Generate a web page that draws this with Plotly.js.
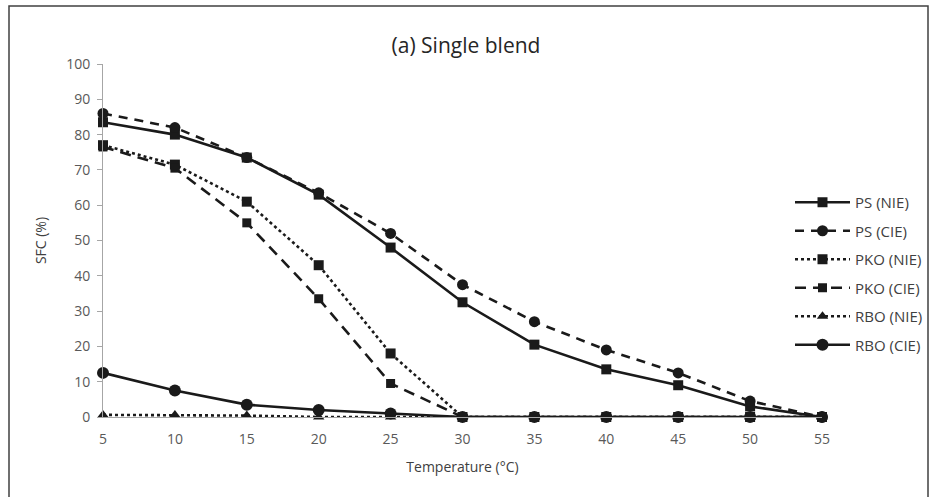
<!DOCTYPE html>
<html>
<head>
<meta charset="utf-8">
<script src="https://cdn.plot.ly/plotly-3.0.1.min.js"></script>
<style>
html,body{margin:0;padding:0;background:#fff;}
#chart{width:932px;height:497px;}
</style>
</head>
<body>
<div id="chart"></div>
<script>
const temperature = [5, 10, 15, 20, 25, 30, 35, 40, 45, 50, 55];
const psNIE  = [83.5, 80, 73.5, 63, 48, 32.5, 20.5, 13.5, 9, 3, 0];
const psCIE  = [86, 82, 73.5, 63.5, 52, 37.5, 27, 19, 12.5, 4.5, 0];
const pkoNIE = [77, 71.5, 61, 43, 18, 0, 0, 0, 0, 0, 0];
const pkoCIE = [76.5, 70.5, 55, 33.5, 9.5, 0, 0, 0, 0, 0, 0];
const rboNIE = [0.6, 0.6, 0.4, 0, 0, 0, 0, 0, 0, 0, 0];
const rboCIE = [12.5, 7.5, 3.5, 2, 1, 0, 0, 0, 0, 0, 0];
const seriesNames = ["PS (NIE)", "PS (CIE)", "PKO (NIE)", "PKO (CIE)", "RBO (NIE)", "RBO (CIE)"];
const yTicks = [0, 10, 20, 30, 40, 50, 60, 70, 80, 90, 100];

const black = "#1a1a1a";
function tr(name, y, dash, symbol, size, i) {
  return {
    type: "scatter", mode: "lines+markers", name: name, legendgroup: "g" + i,
    x: temperature, y: y, cliponaxis: false,
    line: {color: black, width: 2.6, dash: dash},
    marker: {color: black, symbol: symbol, size: size}
  };
}
const data = [
  tr(seriesNames[0], psNIE, "solid", "square", 10, 0),
  tr(seriesNames[1], psCIE, "9px,7px", "circle", 11, 1),
  tr(seriesNames[2], pkoNIE, "dot", "square", 10, 2),
  tr(seriesNames[3], pkoCIE, "11px,7px", "square", 9, 3),
  tr(seriesNames[4], rboNIE, "dot", "triangle-up", 10, 4),
  tr(seriesNames[5], rboCIE, "solid", "circle", 12, 5)
];

// plot area in pixels: x 103..822, y 64..417
const L = 103, R = 822, T = 64, B = 417, W = 932, H = 497;
const px = v => (v - L) / (R - L);
const py = v => (B - v) / (B - T);

const layout = {
  width: W, height: H,
  margin: {l: L, r: W - R, t: T, b: H - B, pad: 0, autoexpand: false},
  paper_bgcolor: "#fff", plot_bgcolor: "#fff",
  font: {family: "Open Sans, Lato, sans-serif", color: "#404040"},
  title: {text: "(a) Single blend", font: {size: 21, color: "#262626"},
          x: 0.5, xref: "container", y: 1 - 46 / H, yref: "container", yanchor: "middle"},
  xaxis: {
    range: [5, 55], tickvals: temperature, ticktext: temperature.map(String),
    showgrid: false, zeroline: false, showline: true, linecolor: "#a6a6a6", linewidth: 1,
    ticks: "", ticklabelstandoff: 9, tickfont: {size: 14, color: "#595959"},
    title: {text: "Temperature (°C)", font: {size: 14, color: "#404040"}, standoff: 15}
  },
  yaxis: {
    range: [0, 100], tickvals: yTicks, showgrid: false, zeroline: false,
    showline: true, linecolor: "#a6a6a6", linewidth: 1,
    ticks: "outside", ticklen: 5, tickcolor: "#a6a6a6", ticklabelstandoff: 4,
    tickfont: {size: 14, color: "#595959"},
    title: {text: "SFC (%)", font: {size: 14, color: "#404040"}, standoff: 16}
  },
  legend: {
    x: px(790), y: py(186), xanchor: "left", yanchor: "top",
    font: {size: 15, color: "#404040"}, tracegroupgap: 6,
    itemwidth: 55, bgcolor: "rgba(0,0,0,0)"
  },
  showlegend: true,
  shapes: [{
    type: "rect", xref: "paper", yref: "paper",
    x0: px(9), x1: px(928), y0: py(520), y1: py(6),
    line: {color: "#404040", width: 1.5}, fillcolor: "rgba(0,0,0,0)", layer: "below"
  }]
};

Plotly.newPlot("chart", data, layout, {displayModeBar: false, staticPlot: true});
</script>
</body>
</html>
